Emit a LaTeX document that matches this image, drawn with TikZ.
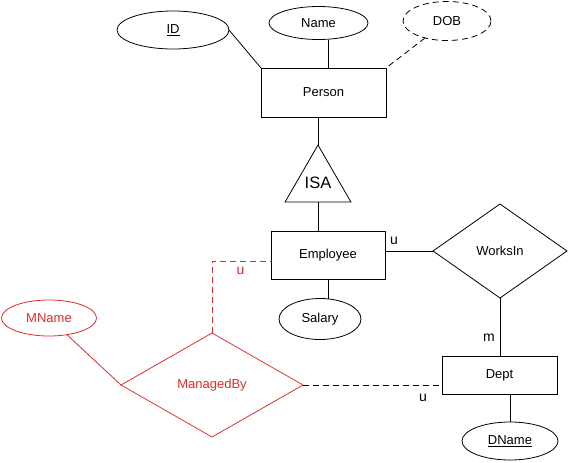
\documentclass[tikz,border=0pt]{standalone}
\usepackage{fontspec}
\setmainfont{Liberation Sans}
\usetikzlibrary{shapes.geometric}
\definecolor{mred}{RGB}{220,45,45}

\begin{document}
\begin{tikzpicture}[x=1pt,y=-1pt,line width=0.8pt,
    font=\fontsize{13}{15}\selectfont,
    entity/.style={draw,rectangle,inner sep=0pt,outer sep=0pt},
    attr/.style={draw,ellipse,inner sep=0pt,outer sep=0pt},
    rel/.style={draw,diamond,inner sep=0pt,outer sep=0pt},
    lbl/.style={inner sep=0pt,font=\fontsize{14}{16}\selectfont},
    dashline/.style={dash pattern=on 6pt off 4pt}]
        \useasboundingbox (0,0) rectangle (568,463);

        % 实体
        \node[entity,minimum width=125pt,minimum height=49pt] (person) at (323.5,92.5) {Person};
        \node[entity,minimum width=114pt,minimum height=48pt] (emp) at (328,255) {Employee};
        \node[entity,minimum width=115pt,minimum height=38pt] (dept) at (499.5,375) {Dept};

        % 属性
        \node[attr,minimum width=112pt,minimum height=38pt] (id) at (173,30) {\underline{ID}};
        \node[attr,minimum width=99pt,minimum height=33pt] (name) at (318.5,23) {Name};
        \node[attr,dashline,minimum width=88pt,minimum height=39pt] (dob) at (447,21) {DOB};
        \node[attr,minimum width=82pt,minimum height=41pt] (sal) at (320,319) {Salary};
        \node[attr,minimum width=96pt,minimum height=38pt] (dname) at (510,441) {\underline{DName}};
        \node[attr,draw=mred,text=mred,minimum width=95pt,minimum height=36pt] (mname) at (49,318) {MName};

        % ISA 与联系
        \node[draw,regular polygon,regular polygon sides=3,minimum size=76pt,inner sep=0pt,outer sep=0pt,
              font=\fontsize{16.5}{18}\selectfont] (isa) at (318,183) {ISA};
        \node[rel,minimum width=134pt,minimum height=94pt] (works) at (500,251) {WorksIn};
        \node[rel,draw=mred,text=mred,minimum width=182pt,minimum height=104pt] (mb) at (212,385) {ManagedBy};

        % 连线
        \draw (id.east) -- (person.north west);
        \draw (name.south -| 328,0) -- (person.north -| 328,0);
        \draw[dashline] (dob) -- (person.north east);
        \draw (isa.north) -- (isa.north |- person.south);
        \draw (isa.south) -- (isa.south |- emp.north);
        \draw (emp.south) -- (emp.south |- sal.north);
        \draw (works.west -| emp.east) -- (works.west);
        \draw (works.south) -- (works.south |- dept.north);
        \draw (dname.north) -- (dname.north |- dept.south);
        \draw[dashline] (mb.east) -- (mb.east -| dept.west);
        \draw[mred] (mname) -- (mb.west);
        \draw[mred,dashline] (mb.north) |- ([yshift=-6pt]emp.west);

        % 基数
        \node[lbl] (u1) at (394,241) {u};
        \node[lbl] (m1) at (489,338) {m};
        \node[lbl] (u2) at (423,398) {u};
        \node[lbl,text=mred] (u3) at (240.5,271) {u};
    \end{tikzpicture}
\end{document}
